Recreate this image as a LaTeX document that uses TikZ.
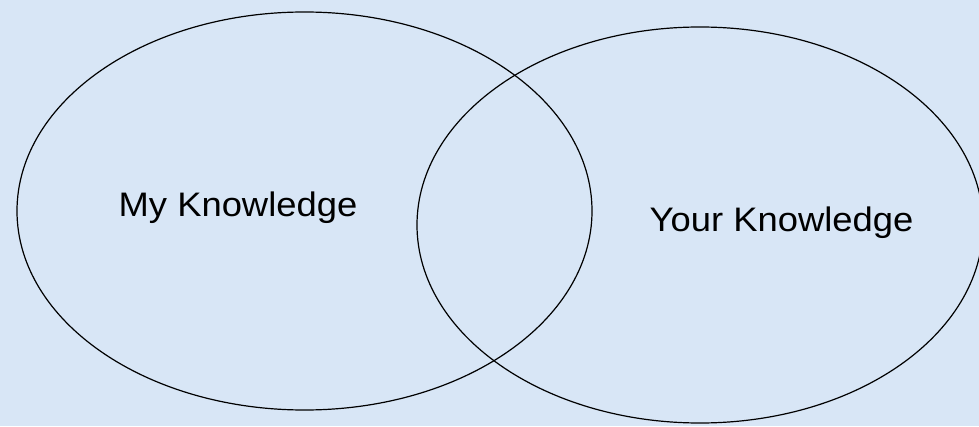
\documentclass[tikz,border=0pt]{standalone}
\usepackage{xcolor}
\usepackage{fontspec}
\setmainfont{Liberation Sans}
\usepackage{tikz}
\usetikzlibrary{shapes.geometric,positioning}
\definecolor{mybg}{RGB}{216,230,246}

\begin{document}
\begin{tikzpicture}[x=1pt,y=1pt,
  set/.style={ellipse, draw=black, line width=1.2pt, inner sep=0pt},
  lbl/.style={anchor=base, font=\fontsize{34}{40}\selectfont, xscale=1.07}
]
  \useasboundingbox (0,0) rectangle (979,426);
  \clip (0,0) rectangle (979,426);
  \fill[mybg] (0,0) rectangle (979,426);

  \node[set, minimum width=575pt, minimum height=398pt](mine) at (304.5,215){};
  \node[set, minimum width=566pt, minimum height=396pt](yours) at (700,201){};

  \node[lbl](mytext) at (238,209){My Knowledge};
  \node[lbl](yourtext) at (781.5,194){Your Knowledge};
\end{tikzpicture}
\end{document}
